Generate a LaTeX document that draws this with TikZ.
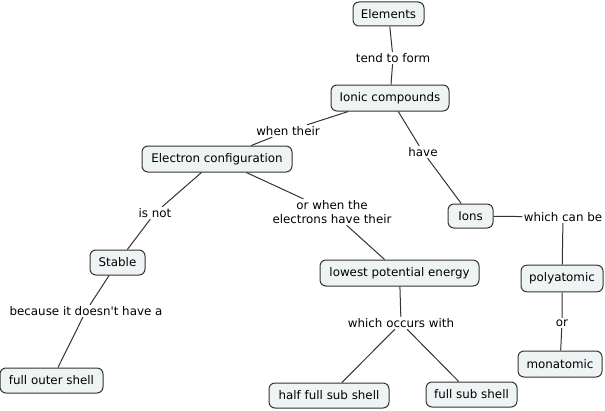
\documentclass[tikz,border=0pt]{standalone}
\usepackage{fontspec}
\setmainfont{DejaVu Sans}[Ligatures=TeXOff]
\definecolor{cfill}{HTML}{EEF3F4}
\definecolor{cline}{HTML}{333333}
\begin{document}
\begin{tikzpicture}[x=0.75pt,y=-0.75pt,
  concept/.style={draw=cline,fill=cfill,rounded corners=4.5pt,line width=0.75pt,
    inner sep=0pt,font=\fontsize{8.9}{10.5}\selectfont,text=black},
  link/.style={inner sep=1pt,font=\fontsize{8.9}{10.5}\selectfont,text=black,align=center},
  conn/.style={draw=cline,line width=0.75pt}]
\useasboundingbox (0,0) rectangle (605,410);
% concepts
\node[concept,minimum width=53.25pt,minimum height=18pt] (elem) at (388.5,14) {Elements};
\node[concept,minimum width=88.5pt,minimum height=19.5pt] (ionic) at (390,98) {Ionic compounds};
\node[concept,minimum width=112.5pt,minimum height=19.5pt] (econf) at (217,159) {Electron configuration};
\node[concept,minimum width=33.75pt,minimum height=18pt] (ions) at (470.5,216) {Ions};
\node[concept,minimum width=41.25pt,minimum height=18.75pt] (stable) at (117.5,262.5) {Stable};
\node[concept,minimum width=119.25pt,minimum height=19.5pt] (lowest) at (399.5,273) {lowest potential energy};
\node[concept,minimum width=61.5pt,minimum height=20pt] (poly) at (562,278.5) {polyatomic};
\node[concept,minimum width=63pt,minimum height=19.5pt] (mono) at (560,364) {monatomic};
\node[concept,minimum width=77.25pt,minimum height=18.75pt] (fos) at (51.5,380.5) {full outer shell};
\node[concept,minimum width=90pt,minimum height=18.75pt] (half) at (329,395.5) {half full sub shell};
\node[concept,minimum width=68.25pt,minimum height=18.75pt] (full) at (471.5,394.5) {full sub shell};
% linking phrases
\node[link] (l1) at (393,58) {tend to form};
\node[link] (l2) at (288,131) {when their};
\node[link] (l3) at (423,152) {have};
\node[link] (l4) at (155,213) {is not};
\node[link] (l5) at (332,212) {or when the\\electrons have their};
\node[link] (l6) at (563,217) {which can be};
\node[link] (l7) at (86,311) {because it doesn't have a};
\node[link] (l8) at (401,323) {which occurs with};
\node[link] (l9) at (562,323) {or};
% connectors
\draw[conn] (elem) -- (l1) -- (ionic);
\draw[conn] (ionic) -- (l2) -- (econf);
\draw[conn] (ionic) -- (l3) -- (ions);
\draw[conn] (econf) -- (l4) -- (stable);
\draw[conn] (econf) -- (l5) -- (lowest);
\draw[conn] (ions) -- (l6) -- (poly);
\draw[conn] (stable) -- (l7) -- (fos);
\draw[conn] (lowest) -- (l8);
\draw[conn] (l8) -- (half);
\draw[conn] (l8) -- (full);
\draw[conn] (poly) -- (l9) -- (mono);
\end{tikzpicture}
\end{document}
